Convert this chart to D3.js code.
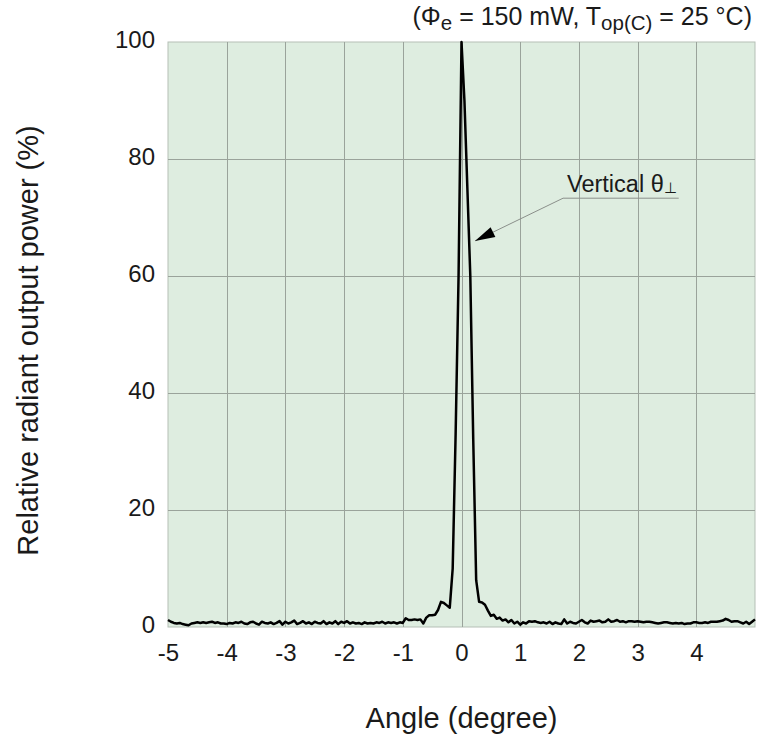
<!DOCTYPE html>
<html><head><meta charset="utf-8">
<script src="https://cdn.jsdelivr.net/npm/d3@7"></script>
<style>body{margin:0;background:#fff}svg{display:block}text{font-family:"Liberation Sans",Arial,Helvetica,sans-serif;fill:#1a1a1a}</style>
</head><body><div id="chart"></div>
<script>
const xStart = -5, xStep = 0.05;
const powerValues = [
 1.2,0.9,0.7,0.6,0.7,0.5,0.4,0.3,0.6,0.7,0.8,0.7,0.8,0.7,0.8,0.9,0.7,0.8,0.6,0.6,
 0.5,0.7,0.6,0.8,0.7,0.9,0.6,0.5,0.8,0.9,0.6,0.4,0.9,0.7,0.6,0.8,0.5,0.7,1.0,0.4,
 0.9,0.6,0.8,1.1,0.5,0.7,1.0,0.6,0.8,0.5,0.9,0.7,0.6,1.0,0.5,0.8,0.6,1.0,0.5,0.9,
 0.7,1.0,0.6,0.8,0.6,0.7,0.5,0.8,0.6,0.7,0.6,0.8,0.7,0.9,0.6,0.8,0.7,0.8,0.6,0.8,
 0.7,1.5,1.2,1.2,1.3,1.2,1.3,0.6,1.6,2.0,2.0,2.1,2.9,4.3,4.1,3.7,3.3,10,33,60,
 100,90,75,60,32,8,4.3,4.2,3.8,2.8,1.9,2.1,1.4,1.6,1.1,1.3,0.8,1.2,0.6,0.9,
 0.4,0.8,0.6,1.0,0.9,1.0,0.8,0.7,0.8,0.6,0.9,0.5,0.8,0.6,0.5,1.3,0.6,0.9,0.7,0.6,
 0.9,1.2,0.8,0.6,1.1,0.9,1.0,1.1,0.8,0.9,1.3,0.9,1.0,1.2,0.9,1.0,0.8,1.0,1.0,0.9,
 1.0,0.9,0.8,0.9,0.9,0.8,0.7,0.6,0.7,0.8,0.8,0.7,0.6,0.7,0.6,0.7,0.5,0.6,0.6,0.8,
 0.8,0.7,0.7,0.8,0.7,0.9,0.9,0.9,1.0,1.1,1.4,1.2,0.9,1.0,1.0,0.8,0.6,0.9,0.5,0.9,
 1.3
];
const xTickValues = [-5,-4,-3,-2,-1,0,1,2,3,4];
const yTickValues = [0,20,40,60,80,100];
const titleParts = [["(Φ",0],["e",1],[" = 150 mW, T",0],["op(C)",1],[" = 25 °C)",0]];
const xAxisTitle = "Angle (degree)";
const yAxisTitle = "Relative radiant output power (%)";
const annotationText = "Vertical θ";
const annotationSub = "⊥";
const annotationTip = [0.23, 66], annotationElbow = [1.73, 73.3], annotationEnd = [3.7, 73.3];

const data = powerValues.map((v,i)=>({a: xStart + i*xStep, p: v}));

const W = 768, H = 750;
const m = {l:168, r:13, t:42, b:123};
const svg = d3.select("#chart").append("svg").attr("width",W).attr("height",H);
const x = d3.scaleLinear().domain([-5,5]).range([m.l, W-m.r]);
const y = d3.scaleLinear().domain([0,100]).range([H-m.b, m.t]);

svg.append("rect").attr("x",x(-5)).attr("y",y(100)).attr("width",x(5)-x(-5)).attr("height",y(0)-y(100))
  .attr("fill","#deede0").attr("stroke","#b5bfb6").attr("stroke-width",1);

const grid = svg.append("g").attr("stroke","#9aa39b").attr("stroke-width",1).attr("shape-rendering","crispEdges");
grid.selectAll("line.v").data(xTickValues.filter(d=>d>-5)).join("line")
  .attr("x1",d=>Math.round(x(d))+0.5).attr("x2",d=>Math.round(x(d))+0.5).attr("y1",y(100)).attr("y2",y(0));
grid.selectAll("line.h").data(yTickValues.filter(d=>d>0&&d<100)).join("line").attr("class","h")
  .attr("y1",d=>Math.round(y(d))+0.5).attr("y2",d=>Math.round(y(d))+0.5).attr("x1",x(-5)).attr("x2",x(5));

const xAxis = svg.append("g").attr("transform",`translate(0,${y(0)})`)
  .call(d3.axisBottom(x).tickValues(xTickValues).tickSize(0).tickPadding(17).tickFormat(d=>String(d)));
xAxis.select(".domain").remove();
xAxis.selectAll("text").attr("font-size",24).attr("fill","#1a1a1a");

const yAxis = svg.append("g").attr("transform",`translate(${x(-5)},0)`)
  .call(d3.axisLeft(y).tickValues(yTickValues).tickSize(0).tickPadding(13).tickFormat(d=>String(d)));
yAxis.select(".domain").remove();
yAxis.selectAll("text").attr("font-size",24).attr("fill","#1a1a1a").attr("dy","0.22em");

const line = d3.line().x(d=>x(d.a)).y(d=>y(d.p));
svg.append("path").datum(data).attr("d",line).attr("fill","none").attr("stroke","#000")
  .attr("stroke-width",2.5).attr("stroke-linejoin","round");

// annotation
const tip=[x(annotationTip[0]),y(annotationTip[1])], elb=[x(annotationElbow[0]),y(annotationElbow[1])];
svg.append("polyline").attr("points",[[x(annotationEnd[0]),y(annotationEnd[1])],elb,tip].map(p=>p.join(",")).join(" "))
  .attr("fill","none").attr("stroke","#8a8f8a").attr("stroke-width",1);
const dx=elb[0]-tip[0], dy=elb[1]-tip[1], L=Math.hypot(dx,dy), ux=dx/L, uy=dy/L;
const bl=20, hw=5.5;
svg.append("path").attr("d",`M${tip[0]},${tip[1]}L${tip[0]+ux*bl-uy*hw},${tip[1]+uy*bl+ux*hw}L${tip[0]+ux*bl+uy*hw},${tip[1]+uy*bl-ux*hw}Z`).attr("fill","#000");
const at = svg.append("text").attr("x",elb[0]+4).attr("y",elb[1]-6).attr("font-size",23.5);
at.append("tspan").text(annotationText);
at.append("tspan").attr("font-size",15).attr("dy",1).text(annotationSub);

// title
const tt = svg.append("text").attr("x",752).attr("y",25).attr("text-anchor","end").attr("font-size",25);
titleParts.forEach(([s,sub],i)=>{
  const prevSub = i>0 ? titleParts[i-1][1] : 0;
  tt.append("tspan").attr("font-size",sub?20.5:25).attr("dy",(sub-prevSub)*5).text(s);
});

svg.append("text").attr("x",(x(-5)+x(5))/2).attr("y",728).attr("text-anchor","middle").attr("font-size",29).text(xAxisTitle);
svg.append("text").attr("transform",`translate(38,${(y(0)+y(100))/2+6}) rotate(-90)`).attr("text-anchor","middle").attr("font-size",29).text(yAxisTitle);
</script></body></html>
